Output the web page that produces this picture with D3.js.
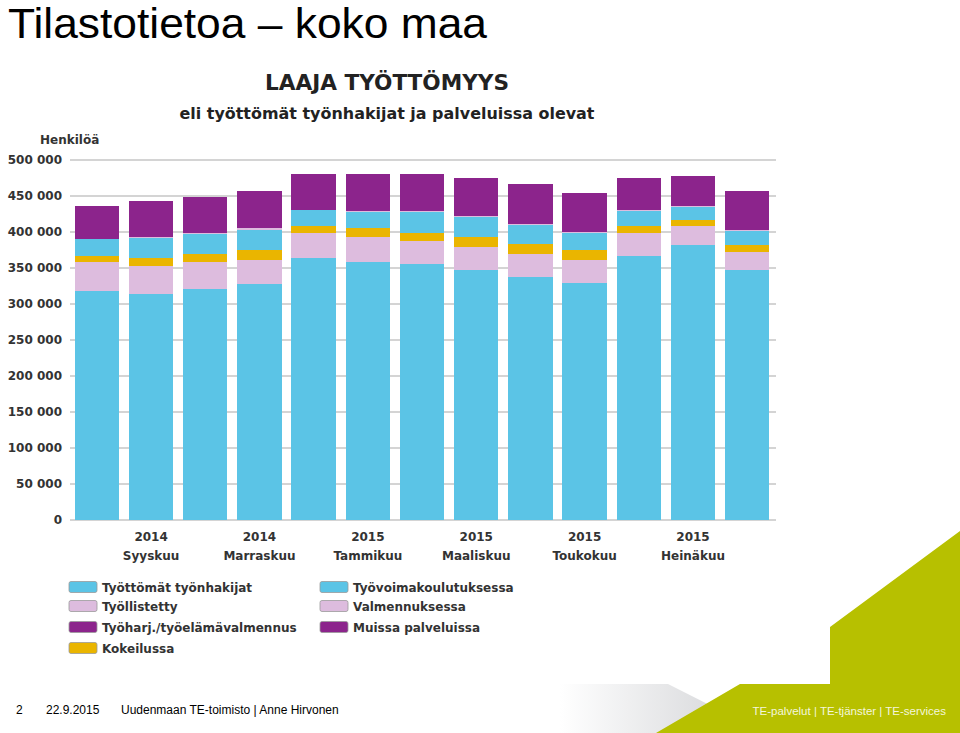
<!DOCTYPE html>
<html><head><meta charset="utf-8">
<script src="https://cdn.jsdelivr.net/npm/d3@7/dist/d3.min.js"></script>
<style>body{margin:0;background:#fff}svg{display:block}</style>
</head><body>
<svg id="c" width="960" height="733"></svg>
<script>
// ---- data ----
const years  = ["2014","2014","2014","2014","2014","2015","2015","2015","2015","2015","2015","2015","2015"];
const months = ["Elokuu","Syyskuu","Lokakuu","Marraskuu","Joulukuu","Tammikuu","Helmikuu","Maaliskuu","Huhtikuu","Toukokuu","Kesäkuu","Heinäkuu","Elokuu"];
const labelledIdx = [1,3,5,7,9,11];

const tyottomat    = [317600,314300,320400,327400,363900,358300,355600,346800,337900,329600,367100,381900,346800];
const tyollistetty = [40700,38900,37900,33700,35100,34800,31500,32000,32000,31500,31900,26000,25800];
const kokeilussa   = [8300,10700,11600,14300,8900,12000,11900,14300,13900,14300,8900,8800,9300];
const koulutus     = [23000,27200,27100,27700,22300,23100,28200,27100,25900,23200,20700,17800,19500];
const valmennus    = [1000,2000,2000,2000,1000,1000,2000,2000,1000,1000,2000,2000,1000];
const tyoharj      = [12000,14500,15000,15500,13500,14500,15500,16000,16500,15000,11500,10500,14000];
const muissa       = [33800,35500,35000,36800,35400,36400,35400,36400,39000,39600,32500,30800,40500];

const seriesNames = ["Työttömät työnhakijat","Työllistetty","Kokeilussa","Työvoimakoulutuksessa","Valmennuksessa","Työharj./työelämävalmennus","Muissa palveluissa"];
const seriesValues = [tyottomat,tyollistetty,kokeilussa,koulutus,valmennus,tyoharj,muissa];
const yTicks = [0,50000,100000,150000,200000,250000,300000,350000,400000,450000,500000];

// ---- styles ----
const BLUE="#5BC4E6", PINK="#DDBCDE", YEL="#EAB500", PUR="#8C248C";
const colors = [BLUE,PINK,YEL,BLUE,PINK,PUR,PUR];
// legend layout [col,row]
const legendPos = [[0,0],[0,1],[0,3],[1,0],[1,1],[0,2],[1,2]];

const svg = d3.select("#c");
svg.append("rect").attr("width",960).attr("height",733).attr("fill","#fff");

// page title
svg.append("text").attr("x",8).attr("y",38)
  .attr("font-family","Liberation Sans, Arial, sans-serif").attr("font-size",42)
  .attr("textLength",479).attr("lengthAdjust","spacingAndGlyphs")
  .attr("fill","#000").text("Tilastotietoa – koko maa");

// chart titles
svg.append("text").attr("x",387).attr("y",90).attr("text-anchor","middle")
  .attr("font-family","DejaVu Sans, Verdana, sans-serif").attr("font-weight","bold").attr("font-size",21)
  .attr("textLength",244).attr("lengthAdjust","spacingAndGlyphs")
  .attr("fill","#222").text("LAAJA TYÖTTÖMYYS");
svg.append("text").attr("x",387).attr("y",119).attr("text-anchor","middle")
  .attr("font-family","DejaVu Sans, Verdana, sans-serif").attr("font-weight","bold").attr("font-size",15)
  .attr("textLength",415).attr("lengthAdjust","spacingAndGlyphs")
  .attr("fill","#222").text("eli työttömät työnhakijat ja palveluissa olevat");

svg.append("text").attr("x",40).attr("y",144)
  .attr("font-family","DejaVu Sans, Verdana, sans-serif").attr("font-weight","bold").attr("font-size",12)
  .attr("fill","#333").text("Henkilöä");

// scales
const idx = d3.range(months.length);
const x = d3.scaleBand().domain(idx).range([69.8,774.3]).paddingInner(0.18).paddingOuter(0.09);
const y = d3.scaleLinear().domain([0,500000]).range([520,160]);

// grid
svg.append("g").selectAll("line").data(yTicks).join("line")
  .attr("x1",70).attr("x2",776).attr("y1",d=>y(d)).attr("y2",d=>y(d))
  .attr("stroke","#c6c6c6").attr("stroke-width",1.6);

// y axis labels
const yAxis = d3.axisLeft(y).tickValues(yTicks).tickSize(0).tickPadding(8)
  .tickFormat(d => d3.format(",")(d).replace(/,/g," "));
const gy = svg.append("g").attr("transform","translate(70,0)").call(yAxis);
gy.select(".domain").remove();
gy.selectAll("text").attr("font-family","DejaVu Sans, Verdana, sans-serif")
  .attr("font-weight","bold").attr("font-size",12).attr("fill","#333");

// stacked bars
const rows = idx.map(i => { const r = {i}; seriesNames.forEach((s,k)=> r[s]=seriesValues[k][i]); return r; });
const stacked = d3.stack().keys(seriesNames)(rows);
svg.append("g").attr("shape-rendering","crispEdges").selectAll("g").data(stacked).join("g")
  .attr("fill",(d,k)=>colors[k])
  .selectAll("rect").data(d=>d).join("rect")
  .attr("x",d=>x(d.data.i)).attr("width",x.bandwidth())
  .attr("y",d=>y(d[1])).attr("height",d=>y(d[0])-y(d[1]));

// x axis labels
const xAxis = d3.axisBottom(x).tickValues(labelledIdx).tickSize(0).tickFormat(()=> "");
const gx = svg.append("g").attr("transform","translate(0,520)").call(xAxis);
gx.select(".domain").remove();
gx.selectAll(".tick text").each(function(d){
  const t = d3.select(this).attr("y",0).attr("dy",null)
    .attr("font-family","DejaVu Sans, Verdana, sans-serif").attr("font-weight","bold")
    .attr("font-size",12).attr("fill","#333");
  t.append("tspan").attr("x",0).attr("y",21).text(years[d]);
  t.append("tspan").attr("x",0).attr("y",40).text(months[d]);
});

// legend
const lg = svg.append("g");
seriesNames.forEach((s,k)=>{
  const [c,r] = legendPos[k];
  const lx = c===0 ? 69 : 320;
  const ly = [587,606,627,648][r];
  lg.append("rect").attr("x",lx).attr("y",ly-5.5).attr("width",28).attr("height",11).attr("rx",2)
    .attr("fill",colors[k]).attr("stroke","#9a9a9a").attr("stroke-width",0.8);
  lg.append("text").attr("x",lx+33).attr("y",ly+4.5)
    .attr("font-family","DejaVu Sans, Verdana, sans-serif").attr("font-weight","bold")
    .attr("font-size",12).attr("fill","#333").text(s);
});

// footer decoration
const defs = svg.append("defs");
const gr = defs.append("linearGradient").attr("id","gg").attr("x1","0").attr("x2","1").attr("y1","0").attr("y2","0");
gr.append("stop").attr("offset","0").attr("stop-color","#ffffff");
gr.append("stop").attr("offset","1").attr("stop-color","#cfd0d3");
svg.append("path").attr("d","M560,684 L668,684 L765,733 L560,733 Z").attr("fill","url(#gg)");
svg.append("path").attr("d","M960,531 L830,627 L830,684 L740,684 L656,733 L960,733 Z").attr("fill","#B7C000");

const ff = "Liberation Sans, Arial, sans-serif";
svg.append("text").attr("x",16).attr("y",714).attr("font-family",ff).attr("font-size",12).attr("fill","#000").text("2");
svg.append("text").attr("x",46).attr("y",714).attr("font-family",ff).attr("font-size",12).attr("fill","#000").text("22.9.2015");
svg.append("text").attr("x",121).attr("y",714).attr("font-family",ff).attr("font-size",12).attr("fill","#000")
  .text("Uudenmaan TE-toimisto   |  Anne Hirvonen");
svg.append("text").attr("x",946).attr("y",715).attr("text-anchor","end").attr("font-family",ff).attr("font-size",11.5).attr("fill","#f4f6dc")
  .text("TE-palvelut | TE-tjänster | TE-services");
</script>
</body></html>
